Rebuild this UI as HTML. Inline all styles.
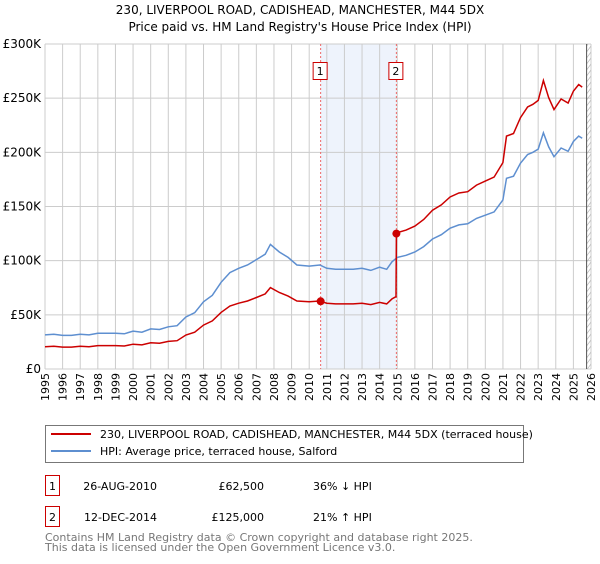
<!DOCTYPE html>
<html><head><meta charset="utf-8"><style>
body{margin:0;width:600px;height:560px;background:#fff;font-family:"DejaVu Sans","Liberation Sans",sans-serif;overflow:hidden}
svg text{font-family:"DejaVu Sans","Liberation Sans",sans-serif}
</style></head><body>
<svg id="c" width="600" height="560">
<text x="300" y="14" text-anchor="middle" font-size="12">230, LIVERPOOL ROAD, CADISHEAD, MANCHESTER, M44 5DX</text>
<text x="300" y="31" text-anchor="middle" font-size="12">Price paid vs. HM Land Registry's House Price Index (HPI)</text>
<g id="plot"></g>
<g>
<rect x="45.5" y="425.5" width="478" height="37" fill="#fff" stroke="#777"/>
<line x1="51" y1="434" x2="91" y2="434" stroke="#cc0000" stroke-width="2"/>
<text x="100" y="438" font-size="11">230, LIVERPOOL ROAD, CADISHEAD, MANCHESTER, M44 5DX (terraced house)</text>
<line x1="51" y1="451" x2="91" y2="451" stroke="#5e8fd0" stroke-width="2"/>
<text x="100" y="455" font-size="11">HPI: Average price, terraced house, Salford</text>
</g>
<g font-size="11">
<rect x="45.5" y="475.5" width="14" height="20" fill="#fff" stroke="#cc0000"/>
<text x="52.5" y="490" text-anchor="middle">1</text>
<text x="157" y="490" text-anchor="end">26-AUG-2010</text>
<text x="264" y="490" text-anchor="end">£62,500</text>
<text x="313" y="490">36% ↓ HPI</text>
<rect x="45.5" y="506.5" width="14" height="20" fill="#fff" stroke="#cc0000"/>
<text x="52.5" y="521" text-anchor="middle">2</text>
<text x="157" y="521" text-anchor="end">12-DEC-2014</text>
<text x="264" y="521" text-anchor="end">£125,000</text>
<text x="313" y="521">21% ↑ HPI</text>
</g>
<text x="45" y="541" font-size="11" fill="#777">Contains HM Land Registry data © Crown copyright and database right 2025.</text>
<text x="45" y="551" font-size="11" fill="#777">This data is licensed under the Open Government Licence v3.0.</text>
</svg>
<script>
const hpiYears=[1995,1995.5,1996,1996.5,1997,1997.5,1998,1998.5,1999,1999.5,2000,2000.5,2001,2001.5,2002,2002.5,2003,2003.5,2004,2004.5,2005,2005.5,2006,2006.5,2007,2007.5,2007.8,2008.3,2008.8,2009.3,2010,2010.6,2011,2011.5,2012,2012.5,2013,2013.5,2014,2014.4,2014.7,2015,2015.5,2016,2016.5,2017,2017.5,2018,2018.5,2019,2019.5,2020,2020.5,2021,2021.2,2021.6,2022,2022.4,2022.7,2023,2023.3,2023.6,2023.9,2024.3,2024.7,2025,2025.3,2025.5];
const hpiValues=[31.5,32,31,31,32,31.5,33,33,33,32.5,35,34,37,36.5,39,40,48,52,62,68,80,89,93,96,101,106,115,108,103,96,95,96,93,92,92,92,93,91,94,92,99,103,105,108,113,120,124,130,133,134,139,142,145,156,176,178,190,198,200,203,218,205,196,204,201,210,215,213];
const saleYears=[2010.65,2014.95];
const salePrices=[62.5,125];
const yTicks=[0,50,100,150,200,250,300];
const yTickLabels=["£0","£50K","£100K","£150K","£200K","£250K","£300K"];
const xTicks=[1995,1996,1997,1998,1999,2000,2001,2002,2003,2004,2005,2006,2007,2008,2009,2010,2011,2012,2013,2014,2015,2016,2017,2018,2019,2020,2021,2022,2023,2024,2025,2026];

const X0=45,X1=591,Y0=369,Y1=44;
const xs=y=>X0+(y-1995)/(2026-1995)*(X1-X0);
const ys=v=>Y0-v/300*(Y0-Y1);
const NS="http://www.w3.org/2000/svg";
const g=document.getElementById('plot');
function mk(t,a){const e=document.createElementNS(NS,t);for(const k in a)e.setAttribute(k,a[k]);g.appendChild(e);return e;}
function hpiAt(t){for(let i=1;i<hpiYears.length;i++){if(t<=hpiYears[i]){const f=(t-hpiYears[i-1])/(hpiYears[i]-hpiYears[i-1]);return hpiValues[i-1]+f*(hpiValues[i]-hpiValues[i-1]);}}return hpiValues[hpiValues.length-1];}
let sh=mk('rect',{x:xs(saleYears[0]),y:Y1,width:xs(saleYears[1])-xs(saleYears[0]),height:Y0-Y1,fill:'#eef3fc'});


xTicks.forEach(t=>{const l=mk('line',{x1:xs(t),x2:xs(t),y1:Y1,y2:Y0,stroke:'#ccc'});


const tx=mk('text',{x:0,y:0,'font-size':11,transform:`translate(${xs(t)+4},${Y0+4}) rotate(-90)`,'text-anchor':'end'});tx.textContent=t;

});
yTicks.forEach((t,i)=>{const l=mk('line',{x1:X0,x2:X1,y1:ys(t),y2:ys(t),stroke:'#ccc'});


const tx=mk('text',{x:X0-4,y:ys(t)+4,'font-size':12,'text-anchor':'end'});tx.textContent=yTickLabels[i];

});
const hx=xs(2025.75);
let hp='';for(let y=Y1-10;y<Y0+10;y+=6){hp+=`M${hx},${y+6}L${X1},${y}`;}
const cp=mk('clipPath',{id:'hc'});const cr=document.createElementNS(NS,'rect');cr.setAttribute('x',hx);cr.setAttribute('y',Y1);cr.setAttribute('width',X1-hx);cr.setAttribute('height',Y0-Y1);cp.appendChild(cr);
const hl=mk('path',{d:hp,stroke:'#bbb','stroke-width':0.7,fill:'none','clip-path':'url(#hc)'});


const hb=mk('line',{x1:hx,x2:hx,y1:Y1,y2:Y0,stroke:'#555'});


saleYears.forEach((s,i)=>{const l=mk('line',{x1:xs(s),x2:xs(s),y1:Y1,y2:Y0,stroke:'#e66','stroke-dasharray':'2,2'});


const r=mk('rect',{x:xs(s)-7.5,y:62.5,width:14,height:17,fill:'#fff',stroke:'#cc0000'});


const t=mk('text',{x:xs(s)-0.5,y:75,'font-size':11,'text-anchor':'middle'});t.textContent=i+1;

});
let d=hpiYears.map((y,i)=>(i?'L':'M')+xs(y).toFixed(1)+','+ys(hpiValues[i]).toFixed(1)).join('');
const hl2=mk('path',{d,stroke:'#5e8fd0','stroke-width':1.5,fill:'none'});


const ratios=saleYears.map((s,i)=>salePrices[i]/hpiAt(s));
let pts=[];
hpiYears.forEach((y,i)=>{if(y<saleYears[1])pts.push([y,hpiValues[i]*ratios[0]]);});
pts.push([saleYears[1]-0.02,hpiAt(saleYears[1]-0.02)*ratios[0]]);
pts.push([saleYears[1],salePrices[1]]);
hpiYears.forEach((y,i)=>{if(y>saleYears[1])pts.push([y,hpiValues[i]*ratios[1]]);});
d=pts.map((p,i)=>(i?'L':'M')+xs(p[0]).toFixed(1)+','+ys(p[1]).toFixed(1)).join('');
const pl=mk('path',{d,stroke:'#cc0000','stroke-width':1.5,fill:'none'});


saleYears.forEach((s,i)=>{const c=mk('circle',{cx:xs(s),cy:ys(salePrices[i]),r:4,fill:'#cc0000'});

});
</script>
</body></html>
